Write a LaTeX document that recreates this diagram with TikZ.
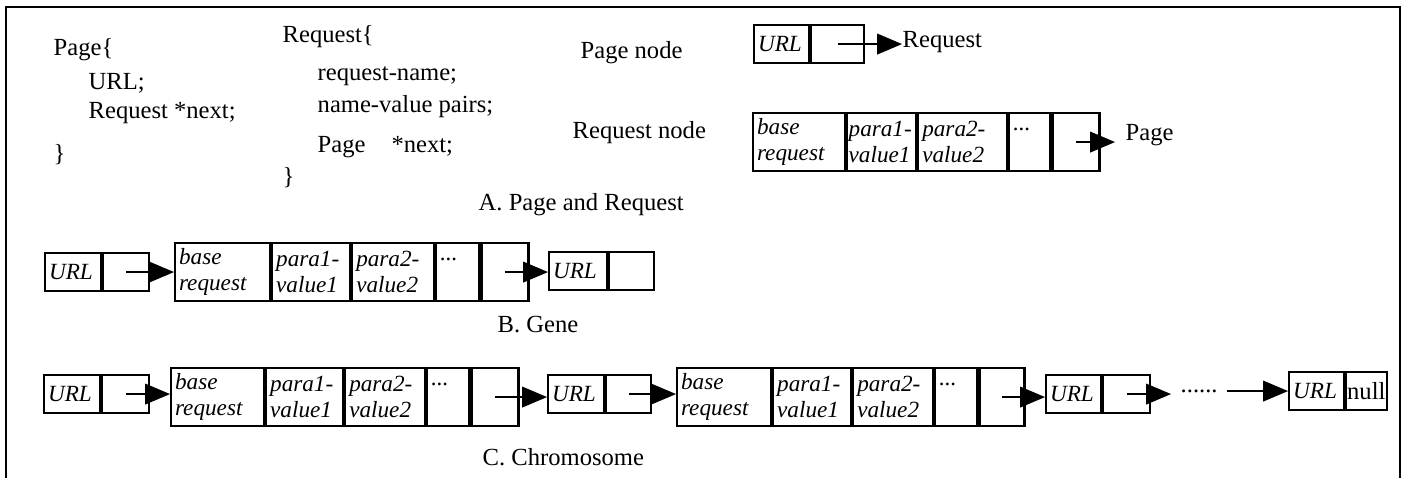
\documentclass[tikz,border=0pt]{standalone}
\usepackage{fontspec}
\setmainfont{Liberation Serif}
\usetikzlibrary{arrows}
\newcommand\lblfont{\fontsize{7}{8.4}\selectfont}
\newcommand\boxfont{\fontsize{6.6}{7.2}\selectfont\itshape}
\tikzset{
cell/.style={draw, line width=0.6pt, anchor=north west, inner xsep=0.4mm, inner ysep=0pt, align=left, font=\boxfont},
small/.style={cell, minimum height=3.8mm},
big/.style={cell, minimum height=5.8mm},
lbl/.style={anchor=base west, inner sep=0pt, font=\lblfont},
link/.style={line width=0.6pt, -triangle 45}
}
\begin{document}
\begin{tikzpicture}[x=0.1mm, y=-0.1mm]
\useasboundingbox (0,0) rectangle (1408,478);
\draw[line width=0.8pt] (6,478) -- (6,7) -- (1400,7) -- (1400,478);

% A. structures
\node[lbl] (pg0) at (53,55) {Page\{};
\node[lbl] (pg1) at (88,89) {URL;};
\node[lbl] (pg2) at (88,118) {Request *next;};
\node[lbl] (pg3) at (53,161) {\}};
\node[lbl] (rq0) at (282,42) {Request\{};
\node[lbl] (rq1) at (317,80) {request-name;};
\node[lbl] (rq2) at (317,112) {name-value pairs;};
\node[lbl] (rq3) at (317,152) {Page\hspace{2.6mm}*next;};
\node[lbl] (rq4) at (282,184) {\}};
\node[lbl] (pgnode) at (580,58) {Page node};
\node[lbl] (rqnode) at (572,138) {Request node};

\node[small, text width=4.7mm] (pgurl) at (753,24) {URL};
\node[small, text width=4.5mm] (pgptr) at (pgurl.north east) {};
\node[lbl] (pgto) at (902,47) {Request};

\node[big, text width=8.4mm] (rqbase) at (752,112) {base\\request};
\node[big, text width=6.6mm, inner xsep=0.15mm] (rqp1) at (rqbase.north east) {para1-\\value1};
\node[big, text width=8.1mm] (rqp2) at (rqp1.north east) {para2-\\value2};
\node[big, text width=3.3mm] (rqdots) at (rqp2.north east) {...\\~};
\node[big, text width=3.9mm] (rqptr) at (rqdots.north east) {};
\node[lbl, inner xsep=1mm] (rqto) at (1115,140) {Page};

\draw[link] (pgptr.center) -- (pgptr.center -| pgto.west);
\draw[link] (rqptr.center) -- (rqptr.center -| rqto.west);
\node[lbl] (capa) at (478,210) {A. Page and Request};

% B. gene
\node[small, text width=4.8mm] (gurl) at (44,252) {URL};
\node[small, text width=3.8mm] (gptr) at (gurl.north east) {};
\node[big, text width=8.7mm] (gbase) at (174,242) {base\\request};
\node[big, text width=7.0mm] (gp1) at (gbase.north east) {para1-\\value1};
\node[big, text width=7.4mm] (gp2) at (gp1.north east) {para2-\\value2};
\node[big, text width=3.5mm] (gdots) at (gp2.north east) {...\\~};
\node[big, text width=3.9mm] (gnext) at (gdots.north east) {};
\node[small, text width=5.0mm] (gurl2) at (548,251) {URL};
\node[small, text width=3.7mm] (gptr2) at (gurl2.north east) {};
\draw[link] (gptr.center) -- (gptr.center -| gbase.west);
\draw[link] (gnext.center) -- (gnext.center -| gurl2.west);
\node[lbl] (capb) at (497,332) {B. Gene};

% C. chromosome
\node[small, text width=4.8mm] (c1url) at (43,374) {URL};
\node[small, text width=3.9mm] (c1ptr) at (c1url.north east) {};
\node[big, text width=8.5mm] (c1base) at (170,367) {base\\request};
\node[big, text width=6.9mm] (c1p1) at (c1base.north east) {para1-\\value1};
\node[big, text width=7.2mm] (c1p2) at (c1p1.north east) {para2-\\value2};
\node[big, text width=3.4mm] (c1dots) at (c1p2.north east) {...\\~};
\node[big, text width=3.9mm] (c1next) at (c1dots.north east) {};
\node[small, text width=4.8mm] (c2url) at (547,374) {URL};
\node[small, text width=3.7mm] (c2ptr) at (c2url.north east) {};
\node[big, text width=8.6mm] (c2base) at (676,367) {base\\request};
\node[big, text width=7.0mm] (c2p1) at (c2base.north east) {para1-\\value1};
\node[big, text width=7.2mm] (c2p2) at (c2p1.north east) {para2-\\value2};
\node[big, text width=3.4mm] (c2dots) at (c2p2.north east) {...\\~};
\node[big, text width=3.7mm] (c2next) at (c2dots.north east) {};
\node[small, text width=4.7mm] (c3url) at (1045,374) {URL};
\node[small, text width=3.9mm] (c3ptr) at (c3url.north east) {};
\node[lbl, inner xsep=0.9mm] (cmore) at (1171,392) {......};
\node[small, text width=4.7mm] (cnurl) at (1288,371) {URL};
\node[small, text width=3.9mm, inner xsep=0.1mm, font=\lblfont] (cnull) at (cnurl.north east) {null};
\draw[link] (c1ptr.center) -- (c1ptr.center -| c1base.west);
\draw[link] (c1next.center) -- (c1next.center -| c2url.west);
\draw[link] (c2ptr.center) -- (c2ptr.center -| c2base.west);
\draw[link] (c2next.center) -- (c2next.center -| c3url.west);
\draw[link] (c3ptr.center) -- (c3ptr.center -| cmore.west);
\draw[link] (cmore.east |- cnurl.west) -- (cnurl.west);
\node[lbl] (capc) at (482,465) {C. Chromosome};
\end{tikzpicture}
\end{document}
